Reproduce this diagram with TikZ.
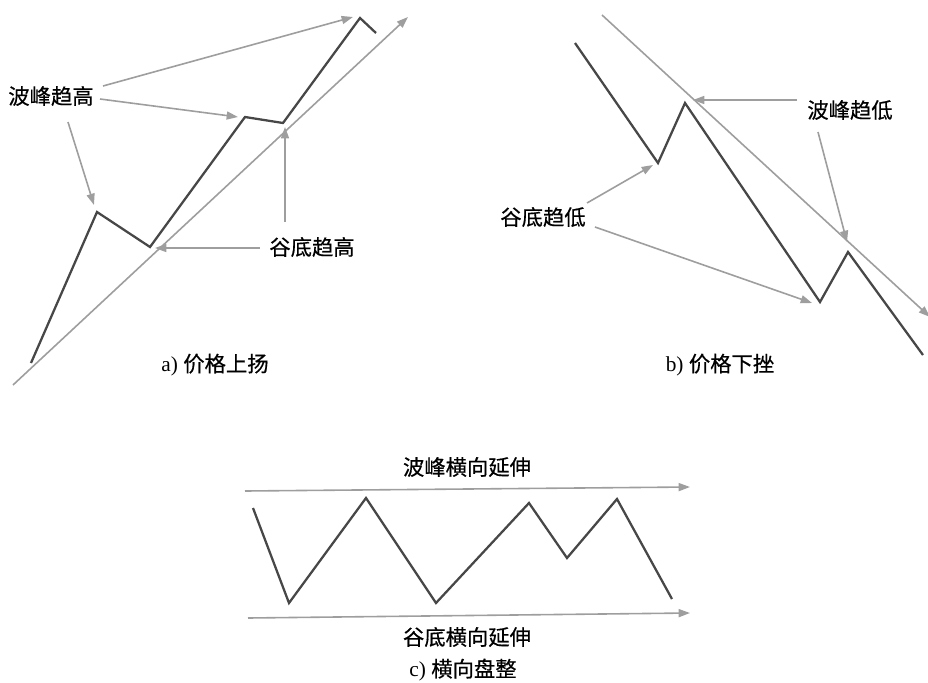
\documentclass[tikz,border=0pt]{standalone}
\usepackage{fontspec}
\setmainfont{Liberation Serif}
\newfontfamily\cjk[FakeBold=0.5]{Noto Sans CJK SC}
\usetikzlibrary{arrows.meta}
\begin{document}
\begin{tikzpicture}[x=0.75pt,y=-0.75pt,
 price/.style={draw=black!72, line width=1.7pt, line join=miter},
 trend/.style={draw=black!38, line width=1.2pt},
 pointer/.style={draw=black!38, line width=1.2pt, -{Triangle[length=8.5pt,width=6pt]}},
 lab/.style={font=\cjk\fontsize{16}{18}\selectfont, inner sep=0pt},
 captext/.style={font=\fontsize{16}{18}\selectfont, inner sep=0pt}]
\useasboundingbox (0,0) rectangle (928,682);

% ---------- panel a ----------
\coordinate (a0) at (31,363);
\coordinate (a1) at (97,212);
\coordinate (a2) at (150,247);
\coordinate (a3) at (245,117);
\coordinate (a4) at (283,123);
\coordinate (a5) at (360,18);
\coordinate (a6) at (376,33);
\coordinate (at0) at (13,385);
\coordinate (at1) at (408,17);
\draw[trend,-{Triangle[length=8.5pt,width=6pt]}] (at0) -- (at1);
\draw[price] (a0) -- (a1) -- (a2) -- (a3) -- (a4) -- (a5) -- (a6);
\node[lab] (pa) at (51,96) {波峰趋高};
\node[lab] (ta) at (312,247) {谷底趋高};
\coordinate (pa1) at (103,86);
\coordinate (pa2) at (100,99);
\coordinate (pa3) at (68,122);
\coordinate (ta1) at (260,248);
\coordinate (ta2) at (285,222);
\coordinate (pk1) at (353,17);
\coordinate (pk2) at (238,117);
\coordinate (pk3) at (94,205);
\coordinate (tr1) at (155,248);
\coordinate (tr2) at (285,127);
\draw[pointer] (pa1) -- (pk1);
\draw[pointer] (pa2) -- (pk2);
\draw[pointer] (pa3) -- (pk3);
\draw[pointer] (ta1) -- (tr1);
\draw[pointer] (ta2) -- (tr2);
\node[captext] (capa) at (215,365) {a) {\cjk 价格上扬}};

% ---------- panel b ----------
\coordinate (b0) at (575,43);
\coordinate (b1) at (658,163);
\coordinate (b2) at (685,103);
\coordinate (b3) at (820,302);
\coordinate (b4) at (848,252);
\coordinate (b5) at (923,355);
\coordinate (bt0) at (602,15);
\coordinate (bt1) at (930,317);
\draw[trend,-{Triangle[length=8.5pt,width=6pt]}] (bt0) -- (bt1);
\draw[price] (b0) -- (b1) -- (b2) -- (b3) -- (b4) -- (b5);
\node[lab] (pb) at (850,110) {波峰趋低};
\node[lab] (tb) at (543,217) {谷底趋低};
\coordinate (pb1) at (797,100);
\coordinate (pb2) at (818,132);
\coordinate (tb1) at (587,203);
\coordinate (tb2) at (595,227);
\coordinate (bpk1) at (693,100);
\coordinate (bpk2) at (847,242);
\coordinate (btr1) at (653,165);
\coordinate (btr2) at (812,303);
\draw[pointer] (pb1) -- (bpk1);
\draw[pointer] (pb2) -- (bpk2);
\draw[pointer] (tb1) -- (btr1);
\draw[pointer] (tb2) -- (btr2);
\node[captext] (capb) at (720,365) {b) {\cjk 价格下挫}};

% ---------- panel c ----------
\coordinate (c0) at (253,508);
\coordinate (c1) at (289,603);
\coordinate (c2) at (366,498);
\coordinate (c3) at (436,603);
\coordinate (c4) at (529,503);
\coordinate (c5) at (567,558);
\coordinate (c6) at (617,499);
\coordinate (c7) at (672,599);
\draw[price] (c0) -- (c1) -- (c2) -- (c3) -- (c4) -- (c5) -- (c6) -- (c7);
\coordinate (ct0) at (245,491);
\coordinate (ct1) at (690,487);
\coordinate (cb0) at (248,618);
\coordinate (cb1) at (690,613);
\draw[pointer] (ct0) -- (ct1);
\draw[pointer] (cb0) -- (cb1);
\node[lab] (pc) at (467,467) {波峰横向延伸};
\node[lab] (tc) at (467,637) {谷底横向延伸};
\node[captext] (capc) at (463,670) {c) {\cjk 横向盘整}};
\end{tikzpicture}
\end{document}
